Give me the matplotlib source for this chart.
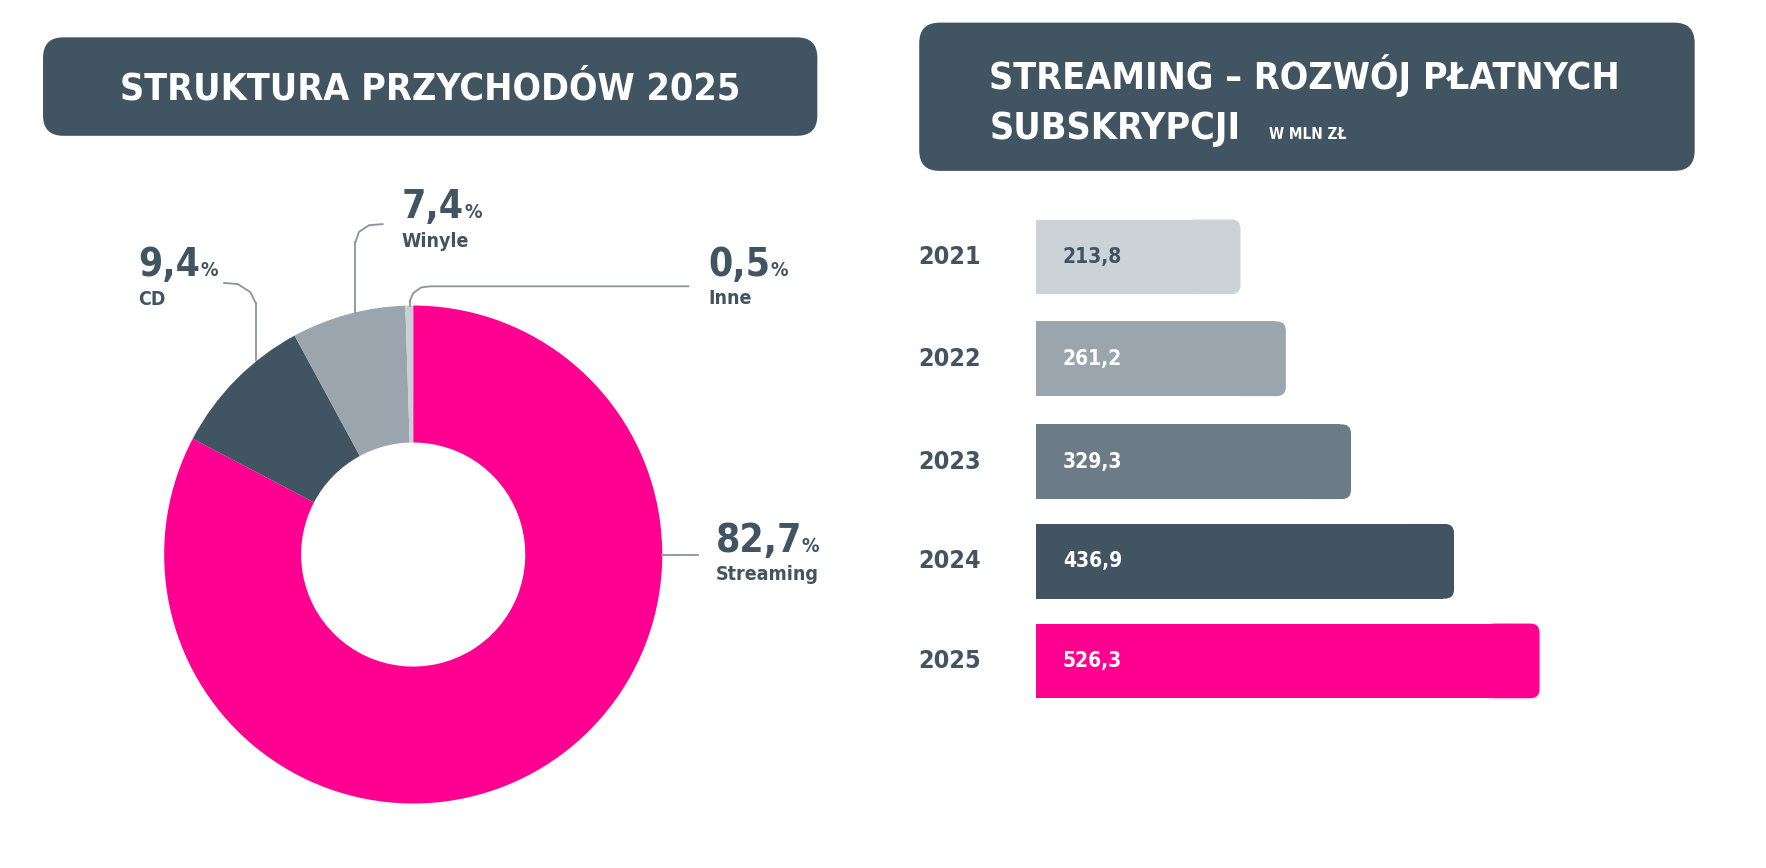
import matplotlib.pyplot as plt
from matplotlib.patches import FancyBboxPatch

# data
pie_labels = ['Streaming', 'CD', 'Winyle', 'Inne']
pie_values = [82.7, 9.4, 7.4, 0.5]
pie_colors = ['#FF0090', '#415462', '#9BA5AE', '#C9D1D6']

years = ['2021', '2022', '2023', '2024', '2025']
subs = [213.8, 261.2, 329.3, 436.9, 526.3]
bar_colors = ['#CBD3D8', '#9BA5AE', '#6C7C87', '#415462', '#FF0090']
bar_text = ['#415462', 'white', 'white', 'white', 'white']

DARK = '#415462'
LINE = '#8A949C'
FONT = dict(family='DejaVu Sans', fontstretch='condensed', fontweight='bold')


def fmt(v):
    return f'{v:.1f}'.replace('.', ',')


fig = plt.figure(figsize=(17.66, 8.68), dpi=100)
ax = fig.add_axes([0, 0, 1, 1])

# title boxes
for (x0, y0, x1, y1) in [(38, 33, 722, 120), (812, 20, 1497, 151)]:
    ax.add_patch(FancyBboxPatch((x0 + 18, y0 + 18), x1 - x0 - 36, y1 - y0 - 36,
                                boxstyle='round,pad=18', fc=DARK, ec='none'))
ax.text(380, 79, 'STRUKTURA PRZYCHODÓW 2025', color='white', fontsize=27,
        ha='center', va='center', **FONT)
ax.text(874, 67, 'STREAMING – ROZWÓJ PŁATNYCH', color='white', fontsize=27,
        ha='left', va='center', **FONT)
ax.text(874, 114, 'SUBSKRYPCJI', color='white', fontsize=27,
        ha='left', va='center', **FONT)
ax.text(1121, 119, 'W MLN ZŁ', color='white', fontsize=11,
        ha='left', va='center', **FONT)

# donut (y axis inverted -> counterclock in data = clockwise on screen)
ax.pie(pie_values, colors=pie_colors, startangle=-90, counterclock=True,
       center=(365, 490), radius=220, frame=True,
       wedgeprops=dict(width=121, edgecolor='none'))

# leader lines
ax.plot([226, 226], [318, 268], color=LINE, lw=1.3)
ax.plot([226, 221, 210, 198], [268, 258, 251, 250], color=LINE, lw=1.3)
ax.plot([314, 314], [276, 214], color=LINE, lw=1.3)
ax.plot([314, 317, 326, 338], [214, 205, 199, 198], color=LINE, lw=1.3)
ax.plot([362, 362], [270, 266], color=LINE, lw=1.3)
ax.plot([362, 365, 372, 380, 608], [266, 259, 254, 253, 253], color=LINE, lw=1.3)
ax.plot([585, 617], [490, 490], color=LINE, lw=1.3)

label_pos = {'Streaming': (632, 478, 508), 'CD': (122, 234, 265),
             'Winyle': (355, 183, 213), 'Inne': (626, 234, 264)}
for lab, val in zip(pie_labels, pie_values):
    x, yv, yl = label_pos[lab]
    t = ax.text(x, yv, fmt(val), color=DARK, fontsize=28, ha='left', va='center', **FONT)
    ax.annotate('%', xy=(1, 0.1), xycoords=t, color=DARK, fontsize=14,
                ha='left', va='bottom', **FONT)
    ax.text(x, yl, lab, color=DARK, fontsize=14, ha='left', va='center', **FONT)

# bars
x0 = 915
scale = 445 / 526.3
ys = [227, 317, 408, 496, 584]
bh = 66
ax.barh(ys, [v * scale - 10 for v in subs], left=x0, height=bh,
        color=bar_colors, edgecolor='none')
for y, v, c, tc, yr in zip(ys, subs, bar_colors, bar_text, years):
    w = v * scale
    ax.add_patch(FancyBboxPatch((x0 + w - 40, y - bh / 2 + 8), 32, bh - 16,
                                boxstyle='round,pad=8', fc=c, ec='none'))
    ax.text(939, y, fmt(v), color=tc, fontsize=15, ha='left', va='center', **FONT)
    ax.text(811, y, yr, color=DARK, fontsize=18, ha='left', va='center', **FONT)

ax.set_xlim(0, 1560)
ax.set_ylim(767, 0)
ax.set_aspect('auto')
ax.axis('off')
fig.savefig('out.png', dpi=100, facecolor='white')
